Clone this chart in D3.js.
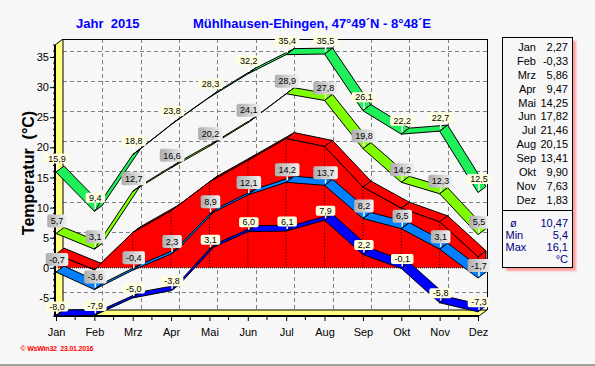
<!DOCTYPE html>
<html>
<head>
<meta charset="utf-8">
<script src="https://cdn.jsdelivr.net/npm/d3@7"></script>
<style>
  body { margin: 0; background: #f7f7f7; }
  svg { display: block; font-family: "Liberation Sans", Arial, sans-serif; }
</style>
</head>
<body>
<svg id="chart" width="595" height="366"></svg>
<script>
// monthly values (2015, Mühlhausen-Ehingen)
const months   = ["Jan", "Feb", "Mrz", "Apr", "Mai", "Jun", "Jul", "Aug", "Sep", "Okt", "Nov", "Dez"];
const absMax   = [15.9, 9.4, 18.8, 23.8, 28.3, 32.2, 35.4, 35.5, 26.1, 22.2, 22.7, 12.5];
const meanMax  = [5.7, 3.1, 12.7, 16.6, 20.2, 24.1, 28.9, 27.8, 19.8, 14.2, 12.3, 5.5];
const meanTemp = [2.27, -0.33, 5.86, 9.47, 14.25, 17.82, 21.46, 20.15, 13.41, 9.90, 7.63, 1.83];
const meanMin  = [-0.7, -3.6, -0.4, 2.3, 8.9, 12.1, 14.2, 13.7, 8.2, 6.5, 3.1, -1.7];
const absMin   = [-8.0, -7.9, -5.0, -3.8, 3.1, 6.0, 6.1, 7.9, 2.2, -0.1, -5.8, -7.3];
const yTicks   = [-5, 0, 5, 10, 15, 20, 25, 30, 35];
const summary  = [["ø", "10,47"], ["Min", "5,4"], ["Max", "16,1"], ["", "°C"]];

const svg = d3.select("#chart");
const x = d3.scalePoint().domain(months).range([56, 478]);
const y = d3.scaleLinear().domain([-8, 37]).range([316, 45]);
const DX = 8, DY = -6;           // depth offset of the 3d look
const X0 = 55, X1 = 479;         // front left / right
const YT = y(37), YB = y(-8);    // front top / bottom
const dec = (v, n) => v.toFixed(n).replace(".", ",");

svg.append("rect").attr("width", 595).attr("height", 366).attr("fill", "#f7f7f7");
svg.append("line").attr("x1", 0).attr("x2", 595).attr("y1", 365).attr("y2", 365)
  .attr("stroke", "#a0a0a0").attr("stroke-width", 2);

const defs = svg.append("defs");
const gg = defs.append("linearGradient").attr("id", "grayLbl");
gg.append("stop").attr("offset", "0").attr("stop-color", "#adadad");
gg.append("stop").attr("offset", "1").attr("stop-color", "#f2f2f2");
defs.append("filter").attr("id", "blur").append("feGaussianBlur").attr("stdDeviation", 1.3);

// titles
svg.append("text").attr("x", 76).attr("y", 28).attr("fill", "#0000ff")
  .attr("font-size", 13).attr("font-weight", "bold").attr("xml:space", "preserve").text("Jahr  2015");
svg.append("text").attr("x", 193).attr("y", 28).attr("fill", "#0000ff")
  .attr("font-size", 13).attr("font-weight", "bold").text("Mühlhausen-Ehingen, 47°49´N - 8°48´E");

// y axis title
svg.append("text").attr("transform", "translate(33.5,173) rotate(-90)")
  .attr("text-anchor", "middle").attr("font-size", 16).attr("font-weight", "bold")
  .attr("xml:space", "preserve").text("Temperatur  (°C)");

// back wall grid
const grid = svg.append("g").attr("stroke", "#808080").attr("stroke-dasharray", "4,3")
  .attr("shape-rendering", "crispEdges");
yTicks.forEach(v => {
  grid.append("line").attr("x1", X0 + DX).attr("x2", X1 + DX)
    .attr("y1", Math.round(y(v) + DY) + 0.5).attr("y2", Math.round(y(v) + DY) + 0.5);
});
months.slice(1, -1).forEach(m => {
  grid.append("line").attr("x1", Math.round(x(m) + DX) + 0.5).attr("x2", Math.round(x(m) + DX) + 0.5)
    .attr("y1", YT + DY).attr("y2", YB + DY);
});

// frame, left wall, floor
svg.append("path").attr("fill", "none").attr("stroke", "#000").attr("shape-rendering", "crispEdges")
  .attr("d", `M${X0 + DX},${YT + DY + 0.5}H${X1 + DX + 0.5}V${YB + DY}`);
svg.append("polygon").attr("fill", "#ffff80").attr("stroke", "#000")
  .attr("points", [[X0, YT], [X0 + DX, YT + DY], [X0 + DX, YB + DY], [X0, YB]].join(" "));
svg.append("polygon").attr("fill", "#ffff80").attr("stroke", "#000")
  .attr("points", [[X0, YB], [X1, YB], [X1 + DX, YB + DY], [X0 + DX, YB + DY]].join(" "));

// x axis
const xAxis = svg.append("g").attr("transform", `translate(0,${YB})`)
  .call(d3.axisBottom(x).tickSize(5).tickPadding(7).tickSizeOuter(0));
xAxis.select(".domain").remove();
xAxis.selectAll("text").attr("font-size", 11).attr("font-family", null).attr("fill", "#000");
months.slice(0, -1).forEach(m => {
  const xm = x(m) + x.step() / 2;
  svg.append("line").attr("x1", xm).attr("x2", xm).attr("y1", YB).attr("y2", YB + 4).attr("stroke", "#000");
});
svg.append("line").attr("x1", X0).attr("x2", X1).attr("y1", YB).attr("y2", YB)
  .attr("stroke", "#000").attr("stroke-width", 2);

// mean temperature as 3d area
const P = (i, v) => [x(months[i]), y(v)];
const back = p => [p[0] + DX, p[1] + DY];
const area = svg.append("g");
for (let i = 0; i < meanTemp.length - 1; i++) {
  const f0 = P(i, meanTemp[i]), f1 = P(i + 1, meanTemp[i + 1]);
  area.append("polygon").attr("points", [f0, f1, back(f1), back(f0)].join(" "))
    .attr("fill", "#ff0000").attr("stroke", "#000").attr("stroke-linejoin", "round");
}
const last = meanTemp.length - 1;
const fe = P(last, meanTemp[last]), fz = P(last, 0);
area.append("polygon").attr("points", [fe, back(fe), back(fz), fz].join(" "))
  .attr("fill", "#ff0000").attr("stroke", "#000");
area.append("path").attr("fill", "#ff0000")
  .attr("d", d3.area().x((d, i) => x(months[i])).y0(y(0)).y1(d => y(d))(meanTemp));
area.append("path").attr("fill", "none").attr("stroke", "#000")
  .attr("d", d3.line().x((d, i) => x(months[i])).y(d => y(d))(meanTemp));
months.slice(1, -1).forEach((m, k) => {
  area.append("line").attr("x1", x(m)).attr("x2", x(m)).attr("y1", y(meanTemp[k + 1])).attr("y2", y(0))
    .attr("stroke", "#000").attr("stroke-dasharray", "1,2");
});
area.append("line").attr("x1", X0 + 1).attr("x2", x("Dez")).attr("y1", y(0)).attr("y2", y(0))
  .attr("stroke", "#000").attr("stroke-dasharray", "1,1");
area.append("line").attr("x1", fe[0]).attr("x2", fz[0]).attr("y1", fe[1]).attr("y2", fz[1]).attr("stroke", "#000");

// 3d ribbons for the lines
function ribbon(values, color) {
  const g = svg.append("g");
  for (let i = 0; i < values.length - 1; i++) {
    const f0 = P(i, values[i]), f1 = P(i + 1, values[i + 1]);
    g.append("polygon").attr("points", [f0, f1, back(f1), back(f0)].join(" "))
      .attr("fill", color).attr("stroke", "#000").attr("stroke-linejoin", "round");
  }
}
ribbon(absMin, "#0000ff");
ribbon(meanMin, "#0080ff");
ribbon(meanMax, "#80ff00");
ribbon(absMax, "#1ef05a");

// y axis line and minor ticks over the marks, under the value labels
d3.range(-8, 38).forEach(v => {
  svg.append("line").attr("x1", X0 - 2).attr("x2", X0).attr("y1", y(v)).attr("y2", y(v)).attr("stroke", "#000");
});
svg.append("line").attr("x1", X0).attr("x2", X0).attr("y1", YT).attr("y2", YB + 1)
  .attr("stroke", "#000").attr("stroke-width", 2);

// value labels: yellow for extremes, gray for means
function labels(values, isAbs, lift) {
  const g = svg.append("g");
  values.forEach((v, i) => {
    const cx = x(months[i]) + 1, py = y(v), cy = py - lift;
    const h = isAbs ? 10 : 13;
    const lg = g.append("g");
    const box = lg.append("rect").attr("rx", 2)
      .attr("fill", isAbs ? "#ffffe0" : "url(#grayLbl)");
    const t = lg.append("text").attr("x", cx).attr("y", cy + 3.2).attr("text-anchor", "middle")
      .attr("font-size", 9).text(dec(v, 1));
    const w = t.node().getComputedTextLength() + 7;
    box.attr("x", cx - w / 2).attr("y", cy - h / 2).attr("width", w).attr("height", h);
    lg.append("line").attr("x1", cx).attr("x2", cx).attr("y1", cy + h / 2).attr("y2", py - 2)
      .attr("stroke", "#fff").attr("stroke-width", 1.5);
  });
}
labels(absMin, true, 9.5);
labels(meanMin, false, 12.5);
labels(meanMax, false, 12.5);
labels(absMax, true, 13.5);

// y axis ticks and numbers
const yAxis = svg.append("g").attr("transform", `translate(${X0},0)`)
  .call(d3.axisLeft(y).tickValues(yTicks).tickFormat(d => String(d)).tickSize(5).tickPadding(1).tickSizeOuter(0));
yAxis.select(".domain").remove();
yAxis.selectAll("text").attr("font-size", 11).attr("font-family", null).attr("fill", "#000");

// legend box
const lg = svg.append("g");
lg.append("rect").attr("x", 506).attr("y", 41).attr("width", 70).attr("height", 230)
  .attr("fill", "#ff8080").attr("opacity", 0.75).attr("filter", "url(#blur)");
lg.append("rect").attr("x", 502.5).attr("y", 37.5).attr("width", 70).attr("height", 230)
  .attr("fill", "#f7f7f7").attr("stroke", "#000");
lg.append("line").attr("x1", 502.5).attr("x2", 572.5).attr("y1", 210.5).attr("y2", 210.5).attr("stroke", "#000");
months.forEach((m, i) => {
  const by = 50.7 + i * 13.95;
  lg.append("text").attr("x", 536).attr("y", by).attr("text-anchor", "end").attr("font-size", 11).text(m);
  lg.append("text").attr("x", 568).attr("y", by).attr("text-anchor", "end").attr("font-size", 11)
    .text(dec(meanTemp[i], 2));
});
summary.forEach((s, i) => {
  const by = 227 + i * 12;
  lg.append("text").attr("x", i === 0 ? 510 : 505.5).attr("y", by).attr("font-size", 11)
    .attr("fill", "#000080").text(s[0]);
  lg.append("text").attr("x", 568).attr("y", by).attr("text-anchor", "end").attr("font-size", 11)
    .attr("fill", "#000080").text(s[1]);
});

// footer
svg.append("text").attr("x", 20.5).attr("y", 350.5).attr("font-size", 7).attr("font-weight", "bold")
  .attr("fill", "#ff0000").attr("xml:space", "preserve").attr("textLength", 73)
  .text("© WsWin32  23.01.2016");
</script>
</body>
</html>
